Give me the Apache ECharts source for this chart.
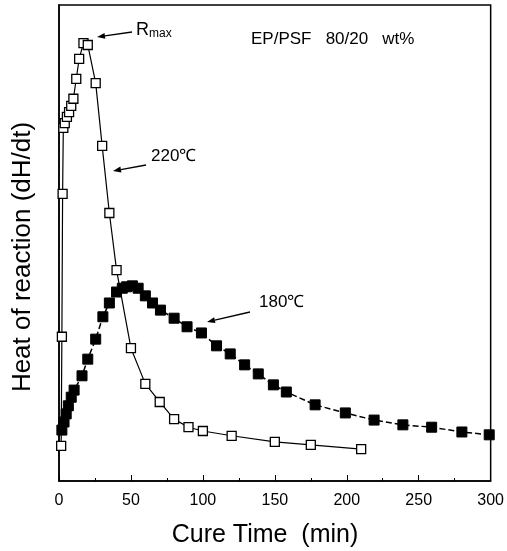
<!DOCTYPE html>
<html>
<head>
<meta charset="utf-8">
<script src="https://cdn.jsdelivr.net/npm/echarts@6/dist/echarts.min.js"></script>
<style>html,body{margin:0;padding:0;background:#fff}#c{width:507px;height:551px}</style>
</head>
<body>
<div id="c"></div>
<script>
// 220 °C series (open squares)
const t220 = [1.5, 2, 2.5, 3, 4, 5.5, 7, 8.5, 10, 12, 14, 17, 20, 25.5, 30, 35, 40, 50, 60, 70, 80, 90, 100, 120, 150, 175, 210];
const h220 = [7.4, 30.3, 60.3, 74.2, 75.2, 76.5, 77.5, 78.8, 80.3, 84.5, 88.7, 92.0, 91.6, 83.6, 70.4, 56.3, 44.3, 27.9, 20.4, 16.6, 13.0, 11.3, 10.5, 9.5, 8.2, 7.6, 6.7];
// 180 °C series (filled squares)
const t180 = [2, 3.5, 5, 6.5, 8.5, 10.5, 16, 20, 25.5, 30.5, 35, 40, 44, 47, 51, 55, 60, 65, 70.5, 80, 89, 99, 109.5, 119, 129, 138.5, 149, 158, 178, 199, 219, 239, 259, 280, 299];
const h180 = [10.7, 12.4, 14.1, 15.8, 17.6, 19.1, 22.1, 25.6, 29.8, 34.5, 37.4, 39.7, 40.5, 40.8, 41.0, 40.5, 38.9, 37.4, 35.9, 34.2, 32.4, 31.1, 28.4, 26.7, 24.4, 22.5, 20.2, 18.7, 16.0, 14.3, 12.8, 11.8, 11.3, 10.3, 9.7];
const xTicks = [0, 50, 100, 150, 200, 250, 300];

const chart = echarts.init(document.getElementById('c'));
const FONT = 'Liberation Sans';
function zip(a, b) { return a.map((v, i) => [v, b[i]]); }
function arrow(x1, y1, x2, y2) {
  const ang = Math.atan2(y2 - y1, x2 - x1), L = 8, W = 3;
  const bx = x2 - L * Math.cos(ang), by = y2 - L * Math.sin(ang);
  const px = -Math.sin(ang) * W, py = Math.cos(ang) * W;
  return [
    { type: 'line', shape: { x1: x1, y1: y1, x2: bx, y2: by }, style: { stroke: '#000', lineWidth: 1.3 } },
    { type: 'polygon', shape: { points: [[x2, y2], [bx + px, by + py], [bx - px, by - py]] }, style: { fill: '#000' } }
  ];
}
chart.setOption({
  animation: false,
  backgroundColor: '#fff',
  grid: { left: 59, right: 15, top: 5, bottom: 70, show: true, borderColor: '#000', borderWidth: 1.5 },
  xAxis: {
    type: 'value', min: 0, max: 300, interval: 50,
    axisLine: { lineStyle: { color: '#000', width: 1.5 } },
    axisTick: { inside: true, length: 6, lineStyle: { color: '#000' } },
    minorTick: { show: true, splitNumber: 2, length: 3, lineStyle: { color: '#000' } },
    splitLine: { show: false },
    axisLabel: { fontFamily: FONT, fontSize: 16, color: '#000', margin: 12,
      formatter: v => xTicks.includes(v) ? String(v) : '' }
  },
  yAxis: {
    type: 'value', min: 0, max: 100,
    axisLine: { show: true, lineStyle: { color: '#000', width: 1.5 } },
    axisTick: { show: false }, axisLabel: { show: false }, splitLine: { show: false }
  },
  series: [
    {
      type: 'line', data: zip(t220, h220), symbol: 'rect', symbolSize: 9,
      itemStyle: { color: '#fff', borderColor: '#000', borderWidth: 1.3 },
      lineStyle: { color: '#000', width: 1.2 }, z: 3
    },
    {
      type: 'line', data: zip(t180, h180), symbol: 'rect', symbolSize: 10,
      itemStyle: { color: '#000', borderColor: '#000' },
      lineStyle: { color: '#000', width: 1.5, type: 'dashed' }, z: 2
    }
  ],
  graphic: [
    { type: 'text', x: 265, y: 535, style: { text: 'Cure Time  (min)', font: '25px ' + FONT, fill: '#000', align: 'center', verticalAlign: 'middle' } },
    { type: 'text', x: 23, y: 257, rotation: Math.PI / 2, style: { text: 'Heat of reaction (dH/dt)', font: '26px ' + FONT, fill: '#000', align: 'center', verticalAlign: 'middle' } },
    { type: 'text', left: 251, top: 31, style: { text: 'EP/PSF   80/20   wt%', font: '17px ' + FONT, fill: '#000' } },
    { type: 'text', left: 136, top: 21, style: { text: 'R', font: '18px ' + FONT, fill: '#000' } },
    { type: 'text', left: 149, top: 28, style: { text: 'max', font: '12px ' + FONT, fill: '#000' } },
    { type: 'text', left: 151, top: 148, style: { text: '220℃', font: '17px ' + FONT, fill: '#000' } },
    { type: 'text', left: 259, top: 294, style: { text: '180℃', font: '17px ' + FONT, fill: '#000' } }
  ].concat(arrow(132, 32, 97, 37), arrow(146, 165, 113, 171), arrow(250, 312, 207, 322))
});
</script>
</body>
</html>
